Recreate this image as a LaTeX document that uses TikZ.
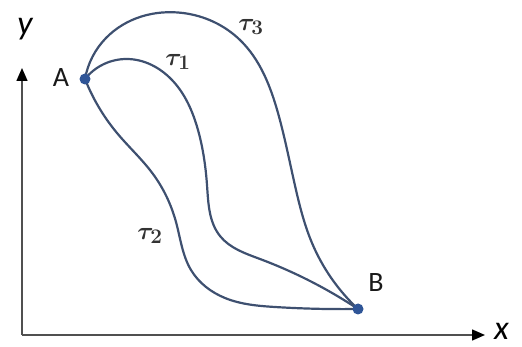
\documentclass[tikz,border=0pt]{standalone}
\usepackage{fontspec}
\setmainfont{Carlito}
\usetikzlibrary{arrows.meta,hobby}
\tikzset{
  curve/.style={draw=curvecol, line width=2.2pt, line cap=round, use Hobby shortcut},
  dot/.style={circle, fill=dotcol, inner sep=0pt, minimum size=11pt},
  axis/.style={draw=axiscol, line width=1.5pt, -{Triangle[width=11pt,length=13pt,color=black]}},
  ptlabel/.style={font=\fontsize{28}{30}\selectfont, text=black!90, inner sep=0pt},
  axlabel/.style={font=\fontsize{34}{38}\selectfont\itshape, text=black, inner sep=0pt},
  taulabel/.style={font=\fontsize{32}{36}\selectfont\boldmath, text=black!80, inner sep=0pt}
}
\definecolor{curvecol}{HTML}{3E5070}
\definecolor{dotcol}{HTML}{2F5597}
\definecolor{axiscol}{HTML}{505050}
\begin{document}
\begin{tikzpicture}[x=1pt,y=-1pt]
\useasboundingbox (0,0) rectangle (522,347);
% axes
\coordinate (O) at (22,335);
\coordinate (Ytip) at (22,68);
\coordinate (Xtip) at (485,335);
\draw[axis] (O) -- (Ytip);
\draw[axis] (O) -- (Xtip);
\node[axlabel] (ylab) at (25,29) {y};
\node[axlabel, anchor=west] (xlab) at (494,331) {x};
% points
\coordinate (A) at (85,79);
\coordinate (B) at (358,309);
\node[ptlabel] (Alab) at (61,78) {A};
\node[ptlabel] (Blab) at (376,283) {B};
% curves
\draw[curve] (A) .. (106,38) .. (183,13) .. (240,40) .. (278,113) .. (296,190) .. (312,243) .. (B);
\draw[curve] (A) .. (127,59) .. (172,80) .. (198,130) .. (207,185) .. (220,236) .. (260,259) .. (B);
\draw[curve] (A) .. (117,133) .. (153,174) .. (176,222) .. (191,270) .. (225,298) .. (275,307) .. (B);
\node[dot] (Adot) at (A) {};
\node[dot] (Bdot) at (B) {};
% labels
\node[taulabel] (t3) at (251,27) {$\tau_3$};
\node[taulabel] (t1) at (178,62) {$\tau_1$};
\node[taulabel] (t2) at (150,236) {$\tau_2$};
\end{tikzpicture}
\end{document}
